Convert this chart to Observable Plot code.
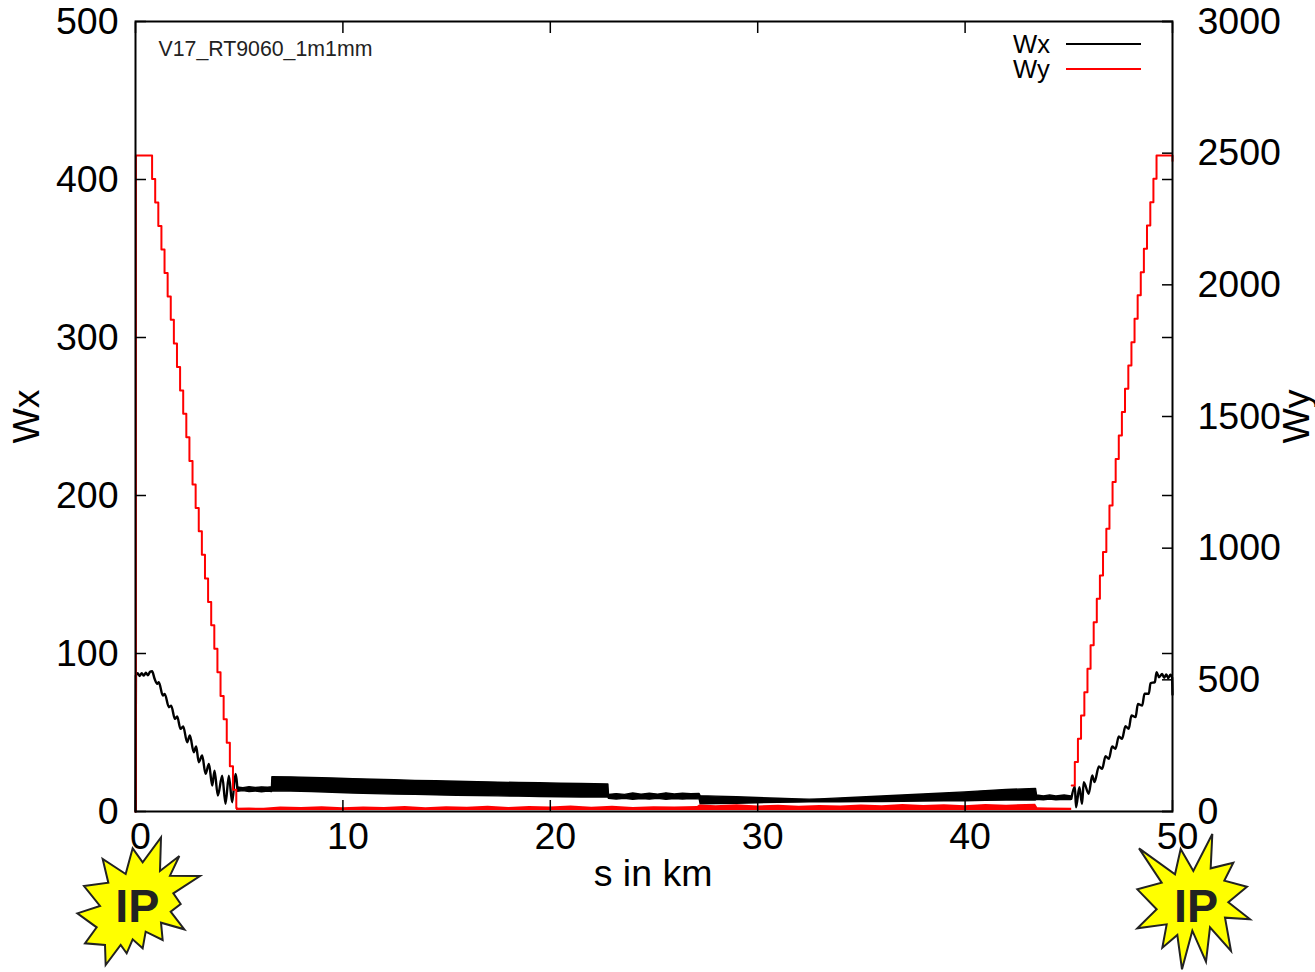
<!DOCTYPE html>
<html><head><meta charset="utf-8">
<script src="https://cdn.jsdelivr.net/npm/d3@7"></script>
<script src="https://cdn.jsdelivr.net/npm/@observablehq/plot@0.6"></script>
<style>
html,body{margin:0;padding:0;background:#fff;overflow:hidden}
#chart{position:relative;width:1315px;height:972px;font-family:"Liberation Sans",Arial,sans-serif}
#chart svg.burst{position:absolute;overflow:visible}
.legend{position:absolute;left:1013px;font-size:25.6px;line-height:22px;height:22px;color:#000}
.key{position:absolute;left:1066px;width:75px;height:2px}
</style></head><body><div id="chart"></div>
<script>
const xTicks=[0,10,20,30,40,50], wxTicks=[0,100,200,300,400,500], wyTicks=[0,500,1000,1500,2000,2500,3000];
// Wy staircase, left beta-max ramp-down
const wyLeftS=[0,0.02,0.80,0.95,1.10,1.25,1.40,1.55,1.70,1.85,2.00,2.15,2.30,2.45,2.60,2.75,2.90,3.05,3.20,3.35,3.50,3.65,3.80,3.95,4.10,4.25,4.40,4.55,4.70,4.86,4.90];
const wyLeft=[0,2491,2402,2313,2223,2134,2045,1956,1867,1777,1688,1599,1510,1421,1331,1242,1153,1064,975,885,796,707,618,529,439,350,261,172,83,12,12];
// Wy staircase, right ramp-up
const wyRightS=[45.14,45.29,45.44,45.59,45.75,45.90,46.05,46.20,46.35,46.50,46.65,46.81,46.96,47.11,47.26,47.41,47.56,47.71,47.87,48.02,48.17,48.32,48.47,48.62,48.77,48.93,49.08,49.23,49.98,50];
const wyRight=[99,188,276,365,453,542,631,719,808,896,985,1074,1162,1251,1339,1428,1517,1605,1694,1782,1871,1960,2048,2137,2225,2314,2403,2491,2491,2470];
// Wy low arc envelope
const wyArcS=[4.87,5.5,6.2,7,8,9,10,11,12,13,14,15,16,17,18,19,20,21,22,23,24,25,26,27.1,27.2,28,29,30,31,32,33,34,35,36,37,38,39,40,41,42,43.4,43.5,44,45.14];
const wyArcTop=[12,13,12,17,15,18,14,17,15,19,14,18,16,20,15,19,17,21,16,20,15,18,17,19,25,22,26,21,24,20,23,21,25,22,27,23,26,22,27,24,28,14,13,12];
const wyArcLow=[4,4,4,4,4,4,4,4,4,4,4,4,4,4,4,4,4,4,4,4,4,4,4,4,4,4,4,4,4,4,4,4,4,4,4,4,4,4,4,4,4,4,4,4];
// Wx left ramp: alternating maxima and minima of the beating
const wxLeftS=[0,0.02,0.1,0.2,0.3,0.4,0.5,0.6,0.7,0.8,0.92,1.045,1.125,1.32,1.41,1.61,1.72,1.90,2.01,2.17,2.30,2.49,2.62,2.81,2.925,3.05,3.215,3.375,3.54,3.70,3.81,3.97,4.18,4.34,4.50,4.66,4.82,4.92];
const wxLeft=[0,86,87.6,85.8,87.6,86,87.8,86.2,88.4,88.8,84,80.8,81.8,73.4,74.4,66,67,58.6,60.1,52.3,53.8,43.8,48.1,37.5,41.1,31.2,35.4,23.8,30.1,16.4,25.9,10.1,22.7,4.8,22.7,5.9,23.8,13.5];
// Wx right ramp
const wxRightS=[45.12,45.29,45.35,45.51,45.64,45.72,45.96,46.13,46.24,46.45,46.61,46.77,46.93,47.09,47.25,47.41,47.57,47.73,47.89,48.02,48.22,48.33,48.54,48.65,48.86,48.94,49.15,49.23,49.35,49.5,49.6,49.7,49.8,49.9,49.98,50];
const wxRight=[8,15.8,2.7,15.4,4.8,18.6,11.2,22.8,18.6,28.5,27,35,33.3,41.1,39.7,47.5,46,54,52.3,60.8,59.7,68.1,67.1,74.5,74.5,81.2,81.9,88.2,85,87,84.6,86.8,84.4,86.6,84.8,74];
// Wx central arc envelope
const wxArcS=[4.92,5.2,5.5,5.8,6.1,6.4,6.58,6.6,7.5,8.5,9.5,10.5,11.5,12.5,13.5,14.5,15.5,16.5,17.5,18.5,19.5,20.5,21.5,22.8,22.83,23.2,23.6,24,24.4,24.8,25.2,25.6,26,26.4,26.8,27.2,27.25,28,29,30,31,32,32.5,33,34,35,36,37,38,39,40,41,42,43.42,43.47,43.8,44.1,44.4,44.8,45.12];
const wxArcTop=[15.2,14.8,15.4,14.9,15.3,15,15.4,21.7,21.6,21.2,20.9,20.5,20.1,19.8,19.4,19.1,18.8,18.6,18.3,18,17.9,17.6,17.4,17.1,10.4,11,10.5,11.4,10.6,11.3,10.7,11.5,10.8,11.2,10.9,11.1,9.7,9.4,9,8.5,8.1,7.7,7.5,7.7,8.3,8.9,9.5,10.1,10.8,11.4,12.1,12.9,13.6,14.3,10.1,9.6,10.2,9.5,10.1,9.6];
const wxArcLow=[12.4,12.9,12.3,12.7,12.2,12.6,12.3,12.8,12.6,12.3,11.9,11.4,11,10.8,10.5,10.2,10,9.8,9.6,9.4,9.2,9,8.9,8.9,8,7.6,8,7.4,7.9,7.5,8,7.4,7.9,7.6,7.9,7.7,4.5,4.7,4.9,5.2,5.5,5.7,5.9,5.9,5.9,6,6,6.2,6.3,6.4,6.5,6.7,6.9,7,7.4,7.1,7.5,7.1,7.4,7.2];

const wyK=6; // 3000 on the right axis spans the same height as 500 on the left
const toWx=v=>v/wyK;
const pts=(s,a)=>s.map((x,i)=>({s:x,v:a[i]}));
const band=(s,t,l)=>s.map((x,i)=>({s:x,t:t[i],l:l[i]}));
const fam='"Liberation Sans",Arial,sans-serif';

const plot=Plot.plot({
  width:1315,height:972,marginLeft:135,marginRight:143,marginTop:21,marginBottom:161,
  x:{domain:[0,50]},y:{domain:[0,500]},
  style:{fontFamily:fam,fontSize:"37.5px",background:"#fff",color:"#000"},
  marks:[
    Plot.areaY(band(wxArcS,wxArcTop,wxArcLow),{x:"s",y1:"l",y2:"t",fill:"#000",stroke:"#000",strokeWidth:1.4,curve:"linear"}),
    Plot.lineY(pts(wxLeftS,wxLeft),{x:"s",y:"v",stroke:"#000",strokeWidth:2.4,curve:"monotone-x"}),
    Plot.lineY(pts(wxRightS,wxRight),{x:"s",y:"v",stroke:"#000",strokeWidth:2.4,curve:"monotone-x"}),
    Plot.areaY(band(wyArcS,wyArcTop,wyArcLow),{x:"s",y1:d=>toWx(d.l),y2:d=>toWx(d.t),fill:"#f00",curve:"linear"}),
    Plot.lineY(pts(wyLeftS,wyLeft),{x:"s",y:d=>toWx(d.v),stroke:"#f00",strokeWidth:2,curve:"step-after"}),
    Plot.lineY(pts(wyRightS,wyRight),{x:"s",y:d=>toWx(d.v),stroke:"#f00",strokeWidth:2,curve:"step-after"}),
    Plot.frame({stroke:"#000",strokeWidth:2}),
    Plot.axisX(xTicks,{anchor:"bottom",tickSize:-11,tickFormat:()=>"",label:null,stroke:"#000",strokeWidth:1.5}),
    Plot.axisX(xTicks,{anchor:"top",tickSize:-11,tickFormat:()=>"",label:null,stroke:"#000",strokeWidth:1.5}),
    Plot.axisY(wxTicks,{anchor:"left",tickSize:-11,tickFormat:()=>"",label:null,stroke:"#000",strokeWidth:1.5}),
    Plot.axisY(wxTicks,{anchor:"right",tickSize:-11,tickFormat:()=>"",label:null,stroke:"#000",strokeWidth:1.5}),
    Plot.axisY(wyTicks.map(toWx),{anchor:"right",tickSize:-11,tickFormat:()=>"",label:null,stroke:"#000",strokeWidth:1.5}),
    Plot.axisX(xTicks,{anchor:"bottom",tickSize:0,tickPadding:11,dx:5,label:null,tickFormat:d=>String(d)}),
    Plot.axisY(wxTicks,{anchor:"left",tickSize:0,tickPadding:17,label:null,tickFormat:d=>String(d)}),
    Plot.axisY(wyTicks.map(toWx),{anchor:"right",tickSize:0,tickPadding:25,label:null,tickFormat:d=>String(Math.round(d*wyK))}),
    Plot.text(["V17_RT9060_1m1mm"],{frameAnchor:"top-left",dx:23,dy:28,textAnchor:"start",lineAnchor:"middle",fontSize:21.3,fill:"#222"}),
    Plot.text(["s in km"],{frameAnchor:"bottom",dy:62,dx:-1,lineAnchor:"middle"}),
    Plot.text(["Wx"],{frameAnchor:"left",dx:-109,rotate:-90,textAnchor:"middle",lineAnchor:"middle"}),
    Plot.text(["Wy"],{frameAnchor:"right",dx:124,rotate:-90,textAnchor:"middle",lineAnchor:"middle"})
  ]
});
const root=document.getElementById("chart");
root.appendChild(plot);

// Legend
const legend=[["Wx","#000",33],["Wy","#f00",58]];
for(const [t,c,y] of legend){
  const d=document.createElement("div");d.className="legend";d.style.top=y+"px";d.textContent=t;root.appendChild(d);
  const k=document.createElement("div");k.className="key";k.style.top=(y+10)+"px";k.style.background=c;root.appendChild(k);
}

// "IP" starbursts
const bursts=[
 {left:60,cx:232,pts:"52,310 120,288 72,228 145,218 128,147 197,192 218,115 248,157 303,82 300,183 358,138 330,197 420,198 340,250 362,282 332,305 373,358 303,338 308,390 257,365 248,415 218,388 200,430 182,405 137,465 135,405 75,400 110,352"},
 {left:1120,cx:228,pts:"57,115 165,193 182,117 220,183 277,72 272,175 340,158 313,212 381,230 325,277 390,328 315,323 333,423 270,352 258,455 217,362 186,478 172,375 127,413 140,343 52,355 110,298 52,238 125,218"}
];
for(const b of bursts){
  root.insertAdjacentHTML("beforeend",`<svg class="burst" style="left:${b.left}px;top:810px" width="160" height="160" viewBox="0 0 480 480">
  <polygon points="${b.pts}" fill="#ff0" stroke="#222" stroke-width="6" stroke-linejoin="miter"/>
  <text x="${b.cx}" y="335" text-anchor="middle" font-family="${fam.replace(/"/g,"'")}" font-weight="bold" font-size="140" fill="#222">IP</text></svg>`);
}
</script></body></html>
